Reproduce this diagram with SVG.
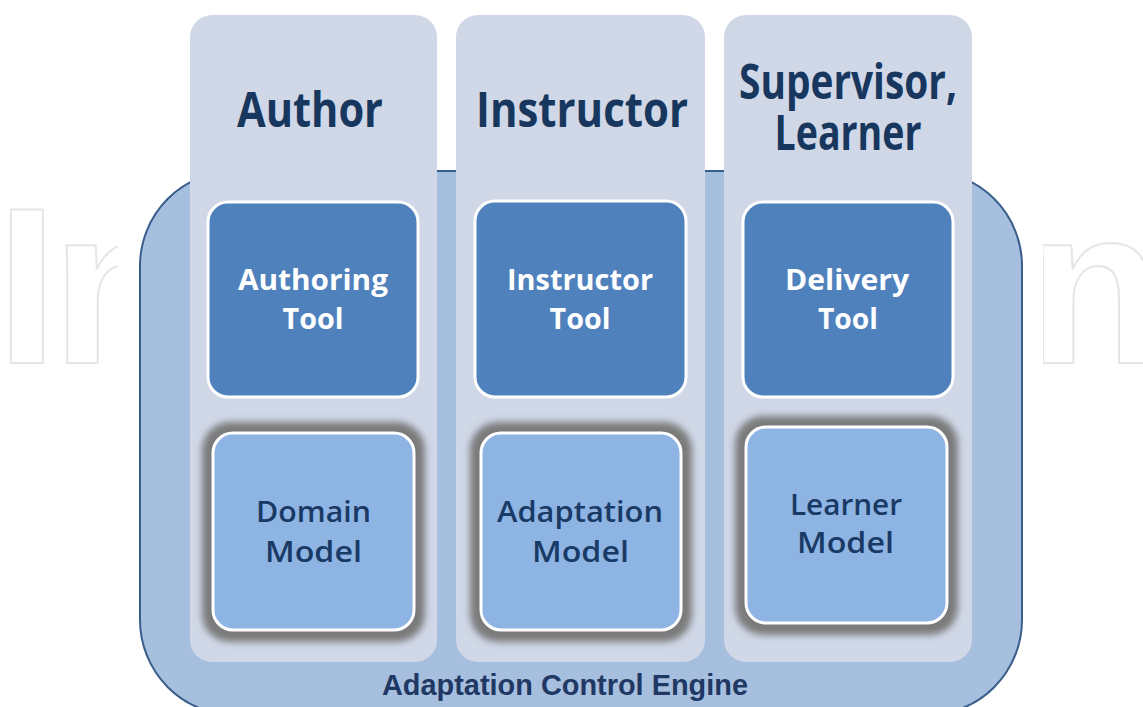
<svg xmlns="http://www.w3.org/2000/svg" width="1143" height="707" viewBox="0 0 1143 707">
<style>
.wm{font-family:"Liberation Sans",Arial,sans-serif;font-weight:700;font-size:222px;fill:none;stroke:#e6e6e6;stroke-width:2;stroke-linejoin:round;letter-spacing:-6px}
.col{fill:#d0d8e8}
.tool{fill:#4f81bd;stroke:#ffffff;stroke-width:3}
.model{fill:#8eb4e3;stroke:#ffffff;stroke-width:3}
.shadow{fill:#7a7a7a}
.hdr{font-family:"Open Sans","Noto Sans",sans-serif;font-weight:700;font-size:48px;fill:#17375e;text-anchor:middle}
.tt{font-family:"Open Sans","Noto Sans",sans-serif;font-weight:700;font-size:29px;fill:#ffffff;text-anchor:middle}
.mt{font-family:"Open Sans","Noto Sans",sans-serif;font-weight:600;font-size:29px;fill:#1a3a66;text-anchor:middle}
.eng{font-family:"Liberation Sans",Arial,sans-serif;font-weight:700;font-size:29px;fill:#1f3864;text-anchor:middle}
</style>
<defs>
<filter id="glow" x="-20%" y="-20%" width="140%" height="140%">
<feGaussianBlur stdDeviation="3.5"/>
</filter>
</defs>
<rect width="1143" height="707" fill="#ffffff"/>
<text class="wm" x="-4" y="363">IntechOpen</text>
<rect x="118" y="0" width="925" height="707" fill="#ffffff"/>

<g id="engine">
<rect x="140" y="171" width="882" height="544" rx="95" ry="95" fill="#a7bfde" stroke="#3a5e8c" stroke-width="2"/>
<text class="eng" x="565" y="695" textLength="366" lengthAdjust="spacingAndGlyphs">Adaptation Control Engine</text>
</g>

<g id="col-author">
<rect class="col" x="190" y="15" width="247" height="647" rx="22"/>
<text class="hdr" x="310" y="127" textLength="146" lengthAdjust="spacingAndGlyphs">Author</text>
</g>
<g id="col-instructor">
<rect class="col" x="456" y="15" width="249" height="647" rx="22"/>
<text class="hdr" x="582" y="127" textLength="212" lengthAdjust="spacingAndGlyphs">Instructor</text>
</g>
<g id="col-supervisor">
<rect class="col" x="724" y="15" width="248" height="647" rx="22"/>
<text class="hdr" x="848" y="99" textLength="218" lengthAdjust="spacingAndGlyphs">Supervisor,</text>
<text class="hdr" x="848" y="150" textLength="147" lengthAdjust="spacingAndGlyphs">Learner</text>
</g>

<g id="authoring-tool">
<rect class="tool" x="208" y="202" width="210" height="195" rx="20"/>
<text class="tt" x="313" y="290" textLength="150" lengthAdjust="spacingAndGlyphs">Authoring</text>
<text class="tt" x="313" y="329" textLength="61" lengthAdjust="spacingAndGlyphs">Tool</text>
</g>
<g id="instructor-tool">
<rect class="tool" x="475" y="201" width="211" height="196" rx="20"/>
<text class="tt" x="580" y="290" textLength="146" lengthAdjust="spacingAndGlyphs">Instructor</text>
<text class="tt" x="580" y="329" textLength="61" lengthAdjust="spacingAndGlyphs">Tool</text>
</g>
<g id="delivery-tool">
<rect class="tool" x="743" y="202" width="210" height="195" rx="20"/>
<text class="tt" x="847" y="290" textLength="124" lengthAdjust="spacingAndGlyphs">Delivery</text>
<text class="tt" x="848" y="329" textLength="60" lengthAdjust="spacingAndGlyphs">Tool</text>
</g>

<g id="domain-model">
<rect class="shadow" x="202" y="422" width="223" height="220" rx="28" filter="url(#glow)"/>
<rect class="model" x="213" y="433" width="201" height="197" rx="20"/>
<text class="mt" x="313.5" y="522" textLength="115" lengthAdjust="spacingAndGlyphs">Domain</text>
<text class="mt" x="313.5" y="562" textLength="97" lengthAdjust="spacingAndGlyphs">Model</text>
</g>
<g id="adaptation-model">
<rect class="shadow" x="470" y="422" width="222" height="220" rx="28" filter="url(#glow)"/>
<rect class="model" x="481" y="433" width="200" height="197" rx="20"/>
<text class="mt" x="580" y="522" textLength="166" lengthAdjust="spacingAndGlyphs">Adaptation</text>
<text class="mt" x="580.5" y="562" textLength="97" lengthAdjust="spacingAndGlyphs">Model</text>
</g>
<g id="learner-model">
<rect class="shadow" x="735" y="416" width="223" height="219" rx="28" filter="url(#glow)"/>
<rect class="model" x="746" y="427" width="201" height="196" rx="20"/>
<text class="mt" x="846" y="515" textLength="112" lengthAdjust="spacingAndGlyphs">Learner</text>
<text class="mt" x="845.5" y="553" textLength="97" lengthAdjust="spacingAndGlyphs">Model</text>
</g>
<g id="connectors"></g>
</svg>
